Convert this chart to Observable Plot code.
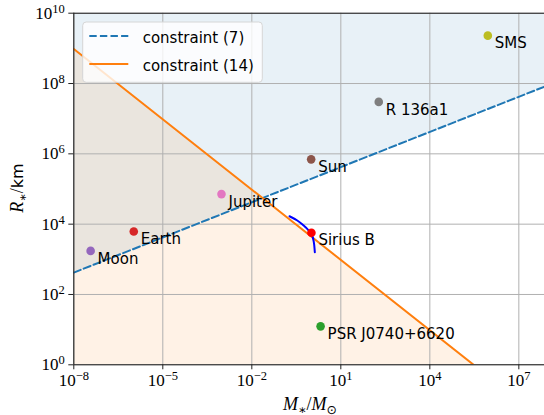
<!DOCTYPE html>
<html><head><meta charset="utf-8">
<script src="https://cdn.jsdelivr.net/npm/d3@7"></script>
<script src="https://cdn.jsdelivr.net/npm/@observablehq/plot@0.6"></script>
<style>body{margin:0;background:#fff} #chart{width:544px;height:415px;overflow:hidden}</style>
</head><body><div id="chart"></div>
<script>
// Objects (mass in solar masses, radius in km)
const objects = ["Moon","Earth","Jupiter","Sun","R 136a1","SMS","Sirius B","PSR J0740+6620"];
const masses  = [3.69e-8, 1.05e-6, 9.5e-4, 1.0, 190, 9.0e5, 1.02, 2.08];
const radii   = [1737, 6200, 71500, 696000, 3.0e7, 2.3e9, 5700, 12.4];
const colors  = ["#9467bd","#d62728","#e377c2","#8c564b","#7f7f7f","#bcbd22","#ff0000","#2ca02c"];

// constraint (7): dashed line endpoints
const c7M = [1e-8, 1e8];
const c7R = [420, 9.05e7];
// constraint (14): solid line endpoints
const c14M = [1e-8, 2.99e5];
const c14R = [9.6e8, 1];
// white-dwarf mass-radius curve near Sirius B
const wdM = [0.186, 0.34, 0.56, 0.79, 1.08, 1.23, 1.33];
const wdR = [16800, 12700, 9160, 6900, 4760, 3070, 1590];

const xTicks = [1e-8, 1e-5, 1e-2, 1e1, 1e4, 1e7];
const yTicks = [1e0, 1e2, 1e4, 1e6, 1e8, 1e10];
const legendLabels = ["constraint (7)", "constraint (14)"];

const pts = objects.map((name, i) => ({name, M: masses[i], R: radii[i], c: colors[i]}));
const c7 = c7M.map((M, i) => ({M, R: c7R[i]}));
const c14 = c14M.map((M, i) => ({M, R: c14R[i]}));
const wd = wdM.map((M, i) => ({M, R: wdR[i]}));

const expFmt = d => "10^" + Math.round(Math.log10(d));
const serif = "Liberation Serif, DejaVu Serif, serif";
const sans = "DejaVu Sans, sans-serif";

const svg = Plot.plot({
  width: 544, height: 415,
  marginLeft: 73.3, marginTop: 12.7, marginBottom: 50.7, marginRight: 0,
  style: {fontFamily: serif, fontSize: "17px", color: "#000", background: "#fff"},
  x: {type: "log", domain: [1e-8, Math.pow(10, 7.865)]},
  y: {type: "log", domain: [1, 1e10]},
  marks: [
    Plot.areaY(c7, {x: "M", y1: "R", y2: 1e10, fill: "#1f77b4", fillOpacity: 0.1, clip: true}),
    Plot.areaY(c14, {x: "M", y1: 1, y2: "R", fill: "#ff7f0e", fillOpacity: 0.1, clip: true}),
    Plot.ruleX(xTicks, {stroke: "#b0b0b0", strokeWidth: 1}),
    Plot.ruleY(yTicks, {stroke: "#b0b0b0", strokeWidth: 1}),
    Plot.line(c7, {x: "M", y: "R", stroke: "#1f77b4", strokeWidth: 2, strokeDasharray: "7.4,3.2", clip: true}),
    Plot.line(c14, {x: "M", y: "R", stroke: "#ff7f0e", strokeWidth: 2, clip: true}),
    Plot.line(wd, {x: "M", y: "R", stroke: "#0000ff", strokeWidth: 2, curve: "catmull-rom"}),
    Plot.dot(pts, {x: "M", y: "R", fill: "c", r: 4.3}),
    Plot.text(pts, {x: "M", y: "R", text: "name", textAnchor: "start", lineAnchor: "top", dx: 7, dy: 2,
      fontSize: 15, fontFamily: sans, fill: "#000"}),
    Plot.ruleX([1e-8], {stroke: "#222", strokeWidth: 1.1}),
    Plot.ruleY([1, 1e10], {stroke: "#222", strokeWidth: 1.1}),
    Plot.axisX({ticks: xTicks, tickFormat: expFmt, tickSize: 5, tickPadding: 4, label: null, stroke: "#222",
      fontSize: 17, fontFamily: serif, fill: "#000"}),
    Plot.axisY({ticks: yTicks, tickFormat: expFmt, tickSize: 5, tickPadding: 4, label: null, stroke: "#222",
      fontSize: 17, fontFamily: serif, fill: "#000"})
  ]
});
document.getElementById("chart").appendChild(svg);

const S = d3.select(svg);
// superscript tick labels
S.selectAll('g[aria-label="x-axis tick label"] text, g[aria-label="y-axis tick label"] text').each(function() {
  const t = d3.select(this);
  const s = t.text();
  const e = s.split("^")[1].replace("-", "\u2212");
  t.text(null);
  t.append("tspan").text("10");
  t.append("tspan").attr("dy", "-0.48em").attr("font-size", "12.5px").text(e);
});

// axis labels
const xl = S.append("text").attr("x", 310).attr("y", 409.5).attr("text-anchor", "middle")
  .attr("font-family", serif).attr("font-size", 18).attr("fill", "#000");
xl.append("tspan").attr("font-style", "italic").text("M");
xl.append("tspan").attr("font-size", 12.5).attr("dy", 4).text("\u2217");
xl.append("tspan").attr("dy", -4).text("/");
xl.append("tspan").attr("font-style", "italic").text("M");
xl.append("tspan").attr("font-size", 12.5).attr("dy", 4).attr("font-family", "DejaVu Sans").text("\u2299");

const yl = S.append("text").attr("transform", "translate(23,188) rotate(-90)").attr("text-anchor", "middle")
  .attr("font-family", serif).attr("font-size", 18).attr("fill", "#000");
yl.append("tspan").attr("font-style", "italic").text("R");
yl.append("tspan").attr("font-size", 12.5).attr("dy", 4).text("\u2217");
yl.append("tspan").attr("dy", -4).text("/");
yl.append("tspan").attr("font-family", sans).attr("font-size", 16).text("km");

// legend
const lg = S.append("g");
lg.append("rect").attr("x", 82.7).attr("y", 22).attr("width", 179.6).attr("height", 60.3).attr("rx", 3.5)
  .attr("fill", "#fff").attr("fill-opacity", 0.8).attr("stroke", "#d6d6d6").attr("stroke-width", 1);
lg.append("line").attr("x1", 89.3).attr("x2", 128.3).attr("y1", 36).attr("y2", 36)
  .attr("stroke", "#1f77b4").attr("stroke-width", 2).attr("stroke-dasharray", "7.4,3.2");
lg.append("line").attr("x1", 89.3).attr("x2", 128.3).attr("y1", 64).attr("y2", 64)
  .attr("stroke", "#ff7f0e").attr("stroke-width", 2);
legendLabels.forEach((l, i) => {
  lg.append("text").attr("x", 142.7).attr("y", 42.5 + i * 28).attr("text-anchor", "start")
    .attr("font-family", sans).attr("font-size", 15).attr("fill", "#000").text(l);
});
</script></body></html>
